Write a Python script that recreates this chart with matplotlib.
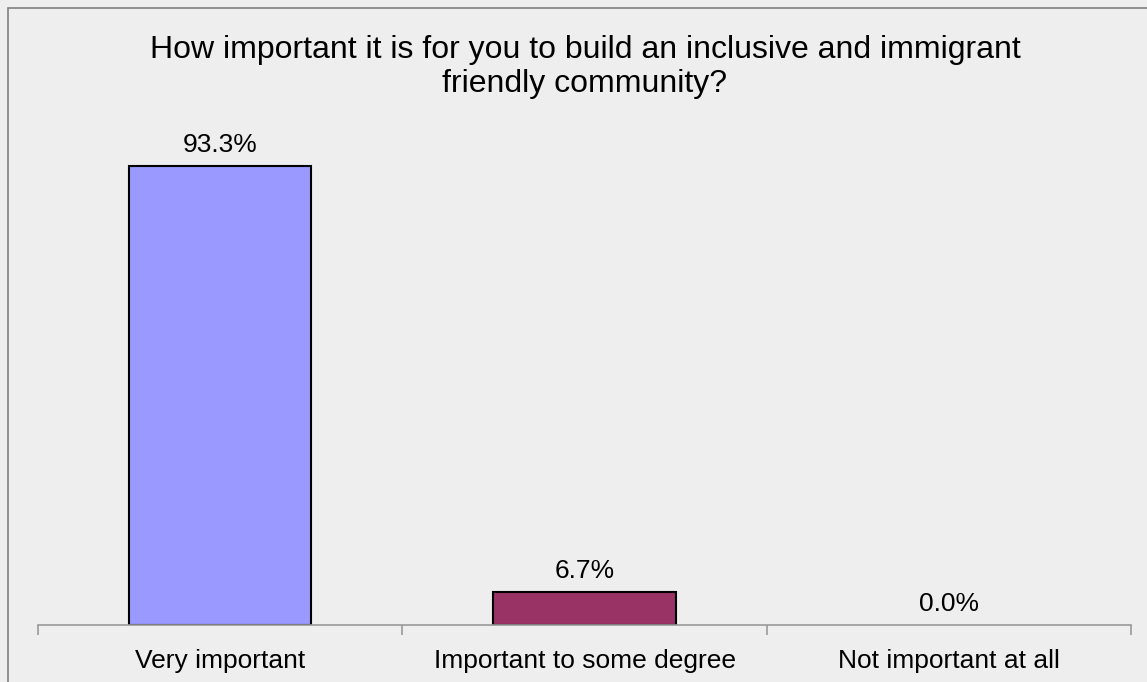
import matplotlib
matplotlib.use('Agg')
import matplotlib.pyplot as plt
from matplotlib.patches import Rectangle

categories = ['Very important', 'Important to some degree', 'Not important at all']
values = [93.3, 6.7, 0.0]
colors = ['#9999FF', '#993366', '#FFFFCC']

plt.rcParams['font.family'] = ['Liberation Sans', 'DejaVu Sans']

fig = plt.figure(figsize=(11.47, 6.82), dpi=100)
fig.patch.set_facecolor('#EEEEEE')
fig.patches.append(Rectangle((8 / 1147, -0.1), 1.2, 1 - 8 / 682 + 0.1,
                             transform=fig.transFigure, fill=False,
                             edgecolor='#808080', linewidth=1.2))

ax = fig.add_axes([38 / 1147, 1 - 625 / 682, (1131 - 38) / 1147, (625 - 133) / 682])
ax.set_facecolor('none')

x = range(len(categories))
bars = ax.bar(x, values, width=0.5, color=colors, edgecolor='black', linewidth=1.5)
bars[2].set_visible(False)

for i, v in enumerate(values):
    ax.annotate(f'{v:.1f}%', (i, v), xytext=(0, 6.5), textcoords='offset points',
                ha='center', va='bottom', fontsize=19)

ax.set_xlim(-0.5, 2.5)
ax.set_ylim(0, 100)
ax.set_yticks([])
for side in ['top', 'right', 'left']:
    ax.spines[side].set_visible(False)
ax.spines['bottom'].set_color('#999999')
ax.spines['bottom'].set_linewidth(1.2)

ax.set_xticks([-0.5, 0.5, 1.5, 2.5], minor=False)
ax.set_xticklabels([])
ax.tick_params(axis='x', which='major', length=7, color='#999999', width=1.2)
ax.set_xticks(list(x), minor=True)
ax.set_xticklabels(categories, minor=True, fontsize=19)
ax.tick_params(axis='x', which='minor', length=0, pad=17.5)

fig.text(585 / 1147, 1 - 67 / 682, 'How important it is for you to build an inclusive and immigrant\nfriendly community?',
         ha='center', va='center', fontsize=23, linespacing=1.15)

fig.savefig('out.png', dpi=100, facecolor=fig.get_facecolor())
